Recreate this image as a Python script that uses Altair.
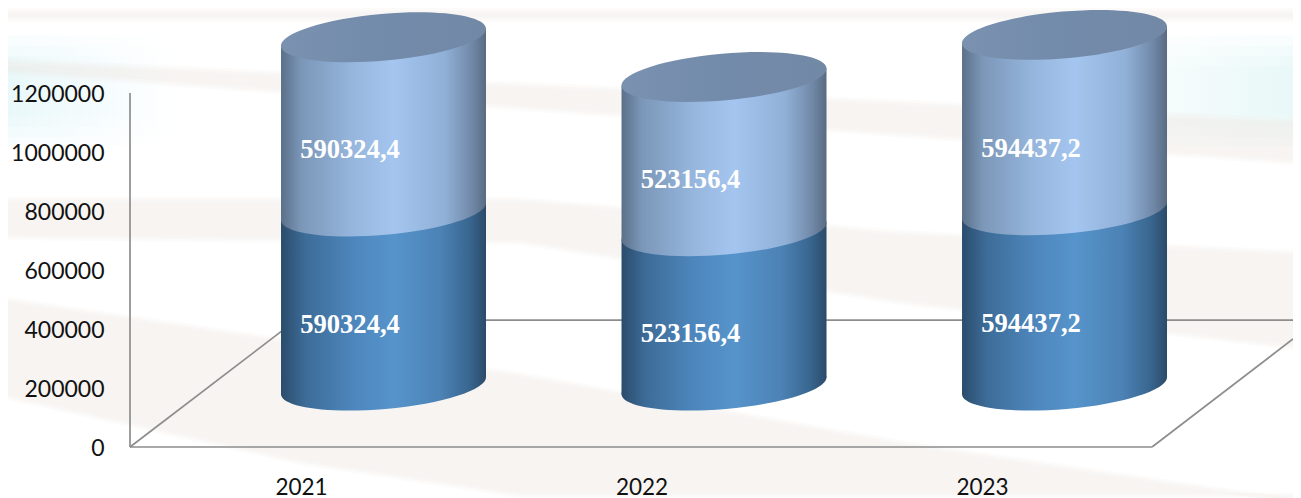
import json
import math
import altair as alt
import pandas as pd

years = ["2021", "2022", "2023"]
lower = [590324.4, 523156.4, 594437.2]
upper = [590324.4, 523156.4, 594437.2]
y_ticks = [0, 200000, 400000, 600000, 800000, 1000000, 1200000]

# depth of the pseudo-3D floor, in value units
base = 208000
tilt = 28800
half_w = 0.301
X_DOM = [-0.7445, 2.671]
Y_DOM = [0, 1488000]

# floor and wall lines: x in category units, y in value units
line_segments = {
    "wall": ([-0.7445, -0.7445], [0, 1200000]),
    "front": ([-0.7445, 2.2570], [0, 0]),
    "left": ([-0.7445, -0.257], [0, 430000]),
    "back": ([-0.257, 2.671], [430000, 430000]),
    "right": ([2.2570, 2.671], [0, 366000]),
}

# faint background stripes: x, top, bottom
bands = [
    ([-1.103, 2.671], [1488000, 1488000], [1440000, 1440000]),
    ([-1.103, 2.671], [1318600, 1115300], [1261000, 955900]),
    ([-1.103, 0.401, 1.517, 2.671],
     [847500, 847500, 735600, 667800], [701700, 684800, 481400, 328800]),
    ([-1.103, -0.245, 0.401, 1.517, 2.671],
     [508500, 362700, 254200, 23700, -172900],
     [159300, -61000, -172900, -172900, -172900]),
]
band_color = "#efe6e0"
glow_steps = [(1395000, 1020000), (1360000, 1050000), (1325000, 1085000), (1290000, 1120000)]


def grad(stops):
    return alt.LinearGradient(
        gradient="linear", x1=0, y1=0, x2=1, y2=0,
        stops=[alt.GradientStop(offset=o, color=c) for o, c in stops],
    )


dark = grad([(0, "#2b4c6c"), (0.12, "#3d6c98"), (0.35, "#4d86bc"), (0.55, "#5694cb"),
             (0.78, "#4c82b5"), (0.92, "#38668f"), (1, "#2c4a69")])
light = grad([(0, "#5b7089"), (0.1, "#7b97b8"), (0.35, "#96b6dd"), (0.55, "#a4c5ef"),
              (0.8, "#90b0d7"), (0.93, "#7189a8"), (1, "#596b82")])
lid = grad([(0, "#7a92b0"), (0.5, "#738baa"), (1, "#7289a6")])


def ellipse_path():
    a, b, th = 102.9 / 102.5, 23.4 / 102.5, math.radians(-5)
    k = 0.5523
    pts = [(a, 0), (a, k * b), (k * a, b), (0, b), (-k * a, b), (-a, k * b), (-a, 0),
           (-a, -k * b), (-k * a, -b), (0, -b), (k * a, -b), (a, -k * b), (a, 0)]
    rot = [(px * math.cos(th) - py * math.sin(th), px * math.sin(th) + py * math.cos(th)) for px, py in pts]
    s = "M%.4f,%.4f" % rot[0]
    for i in range(1, 13, 3):
        s += "C" + " ".join("%.4f,%.4f" % rot[i + j] for j in range(3))
    return s + "Z"


SHAPE = ellipse_path()
SIZE = 205 ** 2

x_axis = alt.Axis(values=[0, 1, 2], labelExpr=f"{json.dumps(years)}[datum.value]",
                  title=None, domain=False, ticks=False, grid=False, zindex=1,
                  labelFont="Lato", labelFontSize=22.5, labelColor="#111111",
                  labelPadding=29, labelOffset=-82.5, labelOverlap=False,
                  labelBound=False, labelFlush=False)
y_axis = alt.Axis(values=y_ticks, title=None, domain=False, ticks=False, grid=False, zindex=1,
                  labelFont="Lato", labelFontSize=23, labelColor="#111111",
                  labelPadding=26, labelOffset=1.5, labelOverlap=False, labelBound=False,
                  labelFlush=False, format="d")

X = lambda f="x": alt.X(f"{f}:Q", scale=alt.Scale(domain=X_DOM, nice=False, zero=False), axis=x_axis)
Y = lambda f="y": alt.Y(f"{f}:Q", scale=alt.Scale(domain=Y_DOM, nice=False, zero=False), axis=y_axis)

layers = []

# background glows at the two upper corners
for yt, yb in glow_steps:
    df = pd.DataFrame({"x": [-1.103, -0.60], "y": [yt, yt], "y2": [yb, yb]})
    layers.append(alt.Chart(df).mark_area(orient="vertical", opacity=0.17,
                                          fill=grad([(0, "#d5f1f6"), (1, "#ffffff")])).encode(
        x=X(), y=Y(), y2="y2:Q"))
    df = pd.DataFrame({"x": [2.0, 2.671], "y": [yt, yt], "y2": [yb, yb]})
    layers.append(alt.Chart(df).mark_area(orient="vertical", opacity=0.17,
                                          fill=grad([(0, "#ffffff"), (1, "#d5f1f1")])).encode(
        x=X(), y=Y(), y2="y2:Q"))

# background stripes: each is nested three times so that its edges look soft
for xs, tops, bots in bands:
    for inset in (0, 9000, 18000):
        df = pd.DataFrame({"x": xs, "y": [t - inset for t in tops], "y2": [b + inset for b in bots]})
        layers.append(alt.Chart(df).mark_area(fill=band_color, opacity=0.17, orient="vertical").encode(
            x=X(), y=Y(), y2="y2:Q"))

# floor / wall lines
rows = []
for name, (xs, ys) in line_segments.items():
    for k, (a, b) in enumerate(zip(xs, ys)):
        rows.append({"seg": name, "k": k, "x": a, "y": b})
layers.append(alt.Chart(pd.DataFrame(rows)).mark_line(color="#8d8d8d", strokeWidth=1.7).encode(
    x=X(), y=Y(), detail="seg:N", order="k:Q"))

# cylinders
body_rows, ring_rows, text_rows = [], [], []
for i, (yr, lo, up) in enumerate(zip(years, lower, upper)):
    b1 = base + lo
    t1 = b1 + up
    for side, sgn in ((-1, -1), (1, 1)):
        body_rows.append({"cat": yr, "part": "low", "x": i + side * half_w, "y": base + sgn * tilt, "y2": b1 + sgn * tilt})
        body_rows.append({"cat": yr, "part": "up", "x": i + side * half_w, "y": b1 + sgn * tilt, "y2": t1 + sgn * tilt})
    ring_rows += [{"cat": yr, "part": "low", "x": i, "y": base},
                  {"cat": yr, "part": "up", "x": i, "y": b1},
                  {"cat": yr, "part": "lid", "x": i, "y": t1}]
    text_rows += [{"x": i, "y": base + lo / 2, "label": f"{lo}".replace(".", ",")},
                  {"x": i, "y": b1 + up / 2, "label": f"{up}".replace(".", ",")}]
body = pd.DataFrame(body_rows)
ring = pd.DataFrame(ring_rows)


def ring_layer(part, fill):
    return alt.Chart(ring[ring.part == part]).mark_point(
        shape=SHAPE, size=SIZE, filled=True, fill=fill, opacity=1, strokeWidth=0).encode(x=X(), y=Y())


def body_layer(part, fill):
    return alt.Chart(body[body.part == part]).mark_area(fill=fill, orient="vertical").encode(
        x=X(), y=Y(), y2="y2:Q", detail="cat:N")


layers += [ring_layer("low", dark), body_layer("low", dark),
           ring_layer("up", light), body_layer("up", light),
           ring_layer("lid", lid)]

layers.append(alt.Chart(pd.DataFrame(text_rows)).mark_text(
    font="Liberation Serif", fontWeight="bold", fontSize=26.6, color="#ffffff",
    dx=-33.5, dy=26, align="center", baseline="middle").encode(x=X(), y=Y(), text="label:N"))

chart = alt.layer(*layers).properties(
    width=1163, height=439, background="#ffffff",
    padding={"left": 122, "top": 0, "right": 0, "bottom": 58},
    autosize=alt.AutoSizeParams(type="none"),
).configure_view(stroke=None)

chart.save("out.html", embed_options={"renderer": "svg", "actions": False})
